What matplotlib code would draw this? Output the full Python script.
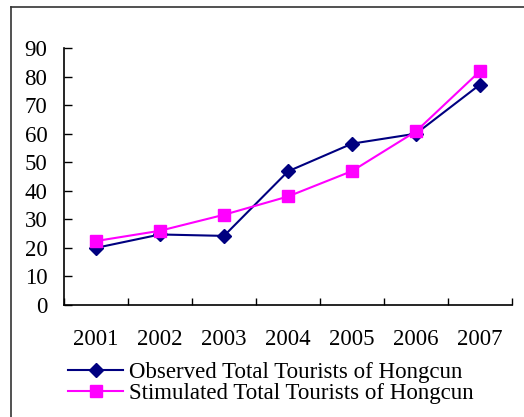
import matplotlib
matplotlib.use("Agg")
import matplotlib.pyplot as plt
from matplotlib.lines import Line2D
import numpy as np

years = ["2001", "2002", "2003", "2004", "2005", "2006", "2007"]
observed = [20.0, 24.7, 24.2, 46.8, 56.5, 60.0, 77.2]
simulated = [22.4, 26.0, 31.6, 38.0, 46.9, 60.8, 81.9]
y_ticks = [0, 10, 20, 30, 40, 50, 60, 70, 80, 90]
series_names = ["Observed Total Tourists of Hongcun",
                "Stimulated Total Tourists of Hongcun"]

plt.rcParams['font.family'] = ['Liberation Serif', 'DejaVu Serif']
FS = 16.5

fig = plt.figure(figsize=(5.24, 4.17), dpi=100)
ax = fig.add_axes([64/524, 1-305/417, (512-64)/524, (305-48)/417])

x = np.arange(len(years))
ax.plot(x, observed, color='#000080', lw=1.5, marker='D', markersize=7.6,
        label=series_names[0], zorder=3)
ax.plot(x, simulated, color='#FF00FF', lw=1.5, marker='s', markersize=8.6,
        label=series_names[1], zorder=4)

ax.set_xlim(-0.5, len(years) - 0.5)
ax.set_ylim(0, 90)
ax.set_yticks(y_ticks)
ax.set_yticklabels([str(v) for v in y_ticks], fontsize=FS)
ax.tick_params(axis='y', direction='in', length=6, width=1, pad=12)

# category boundaries as ticks, labels at centers via minor ticks
ax.set_xticks(np.arange(len(years) + 1) - 0.5)
ax.set_xticklabels([])
ax.set_xticks(x, minor=True)
ax.set_xticklabels(years, minor=True, fontsize=FS)
ax.tick_params(axis='x', which='major', direction='in', length=5, width=1)
ax.tick_params(axis='x', which='minor', length=0, pad=17)

for s in ['top', 'right']:
    ax.spines[s].set_visible(False)
for s in ['left', 'bottom']:
    ax.spines[s].set_linewidth(1.2)

handles = [Line2D([0], [0], color='#000080', lw=1.5, marker='D', markersize=7.6),
           Line2D([0], [0], color='#FF00FF', lw=1.5, marker='s', markersize=8.6)]
fig.legend(handles, series_names, loc='upper left',
           bbox_to_anchor=(68/524, 1-362/417), frameon=False, fontsize=FS,
           handlelength=2.4, handletextpad=0.26, labelspacing=0.0,
           borderaxespad=0, borderpad=0)

# outer chart frame (top and left edges visible)
fig.add_artist(Line2D([11/524, 1.0], [1-7/417, 1-7/417], color='#333333', lw=1.2,
                      transform=fig.transFigure))
fig.add_artist(Line2D([11/524, 11/524], [0, 1-7/417], color='#333333', lw=1.2,
                      transform=fig.transFigure))

fig.savefig("out.png", dpi=100)
